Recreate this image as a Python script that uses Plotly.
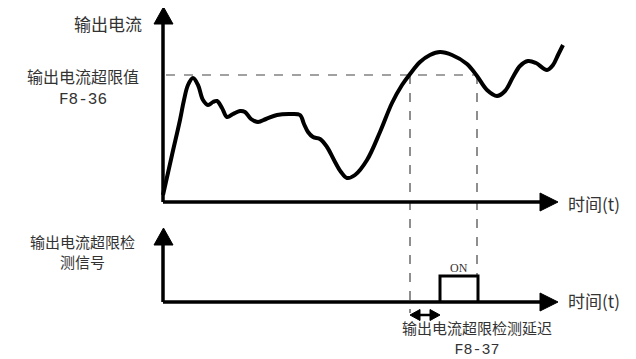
import plotly.graph_objects as go

# ---- data (diagram coordinates, pixel space of a 636x359 canvas) ----
curve_x = [163, 172, 180, 184, 188, 193, 198, 203, 208, 213, 217, 222, 227, 233, 240, 245, 251, 258, 266, 277, 290, 300, 304, 308, 313, 320, 327, 334, 341, 347, 355, 367, 380, 392, 402, 410, 420, 430, 440, 452, 467, 477, 487, 497, 505, 513, 520, 528, 536, 547, 553, 558, 563]
curve_y = [195, 155, 120, 100, 85, 78, 85, 100, 105, 102, 101, 108, 117, 114, 111, 112, 119, 122, 119, 115, 114, 115, 124, 132, 137, 139, 147, 160, 172, 178, 175, 160, 132, 103, 85, 74, 62, 55, 52, 55, 64, 76, 90, 96, 91, 77, 66, 61, 63, 70, 65, 55, 45]

threshold_y = 75
cross_x = [410, 477]
upper_axis = dict(x0=163, y_top=22, y0=202, x_end=542)
lower_axis = dict(x0=163, y_top=243, y0=302, x_end=542)
pulse_x = [440, 478]
pulse_top = 276
delay_y = 315

labels = {
    "y1": "输出电流",
    "thr": "输出电流超限值",
    "thr_code": "F8-36",
    "y2a": "输出电流超限检",
    "y2b": "测信号",
    "t": "时间(t)",
    "on": "ON",
    "delay": "输出电流超限检测延迟",
    "delay_code": "F8-37",
}

INK = "#000000"
TXT = "#333333"
CJK = "Noto Sans CJK SC"

# page body has an 8px margin: shift the drawing space so pixels line up
OFF = 8

fig = go.Figure()

def line(xs, ys, width=3.5, color=INK, dash=None, shape="linear"):
    fig.add_trace(go.Scatter(x=xs, y=ys, mode="lines",
                             line=dict(color=color, width=width, dash=dash, shape=shape),
                             hoverinfo="skip", showlegend=False))

def tri(xs, ys):
    fig.add_trace(go.Scatter(x=xs, y=ys, mode="lines", fill="toself",
                             fillcolor=INK, line=dict(color=INK, width=1),
                             hoverinfo="skip", showlegend=False))

# dashed guides
line([166, cross_x[1]], [threshold_y, threshold_y], width=1.2, color="#444", dash="dash")
line([cross_x[0], cross_x[0]], [threshold_y, 313], width=1.2, color="#444", dash="dash")
line([cross_x[1], cross_x[1]], [threshold_y, pulse_top], width=1.2, color="#444", dash="dash")

# upper axes
ua = upper_axis
line([ua["x0"], ua["x0"]], [ua["y0"], ua["y_top"]])
line([ua["x0"], ua["x_end"]], [ua["y0"], ua["y0"]])
tri([154, 173, 163.5, 154], [24, 24, 7, 24])
tri([540, 540, 558, 540], [193, 211, 202, 193])

# lower axes
la = lower_axis
line([la["x0"], la["x0"]], [la["y0"], la["y_top"]])
line([la["x0"], la["x_end"]], [la["y0"], la["y0"]])
tri([154, 173, 163.5, 154], [245, 245, 228, 245])
tri([540, 540, 558, 540], [293, 311, 302, 293])

# ON pulse
line([pulse_x[0], pulse_x[0], pulse_x[1], pulse_x[1]], [la["y0"], pulse_top, pulse_top, la["y0"]], width=3)

# delay double arrow
line([cross_x[0] + 4, pulse_x[0] - 4], [delay_y, delay_y], width=2.5)
tri([cross_x[0], cross_x[0] + 10, cross_x[0] + 10, cross_x[0]], [delay_y, delay_y - 5.5, delay_y + 5.5, delay_y])
tri([pulse_x[0], pulse_x[0] - 10, pulse_x[0] - 10, pulse_x[0]], [delay_y, delay_y - 5.5, delay_y + 5.5, delay_y])

# signal curve
line(curve_x, curve_y, width=4, shape="spline")

def text(x, y, s, size=16, family=CJK, anchor="center", yanchor="middle"):
    fig.add_annotation(x=x, y=y, text=s, showarrow=False, xanchor=anchor, yanchor=yanchor,
                       align="center", borderpad=0,
                       font=dict(family=family, size=size, color=TXT))

def mono(s):
    return '<span style="font-family:Liberation Mono">' + s + '</span>'

text(143, 23, labels["y1"], size=17, anchor="right")
text(83, 86, labels["thr"] + "<br>" + mono(labels["thr_code"]), size=16)
text(82, 251, labels["y2a"] + "<br>" + labels["y2b"], size=15)
text(567, 203, labels["t"], size=17, anchor="left")
text(567, 300, labels["t"], size=17, anchor="left")
text(459, 268, labels["on"], size=12, family="Liberation Serif")
text(477, 338, labels["delay"] + "<br>" + mono(labels["delay_code"]), size=15)

fig.update_layout(
    width=636 - OFF, height=359 - OFF,
    margin=dict(l=0, r=0, t=0, b=0),
    paper_bgcolor="white", plot_bgcolor="white",
    xaxis=dict(range=[OFF, 636], visible=False, fixedrange=True),
    yaxis=dict(range=[359, OFF], visible=False, fixedrange=True),
)

fig.write_html("out.html")
